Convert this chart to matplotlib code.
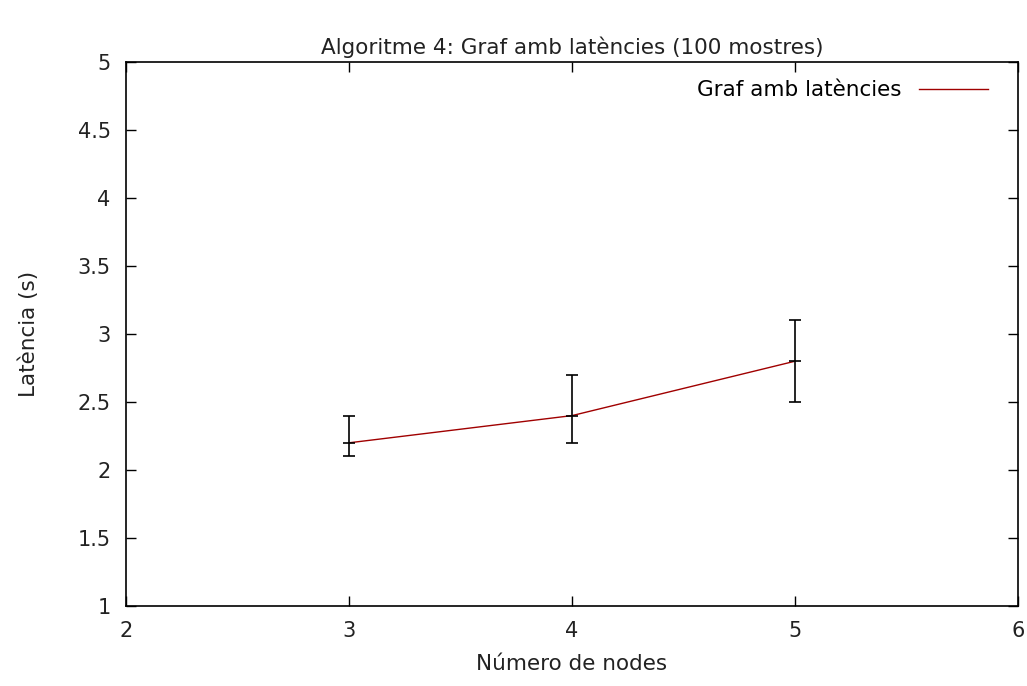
import matplotlib
matplotlib.use('Agg')
import matplotlib.pyplot as plt
import numpy as np

# dades
nodes = [3, 4, 5]
latencia = [2.2, 2.4, 2.8]
err_baix = [2.1, 2.2, 2.5]
err_alt = [2.4, 2.7, 3.1]

plt.rcParams['font.family'] = 'DejaVu Sans'

fig = plt.figure(figsize=(10.27, 6.86), dpi=100)
ax = fig.add_axes([0.1227, 0.1166, 0.8685, 0.793])

yerr = [np.array(latencia) - np.array(err_baix), np.array(err_alt) - np.array(latencia)]
ax.plot(nodes, latencia, color='#a00000', lw=1, label='Graf amb latències')
ax.errorbar(nodes, latencia, yerr=yerr, fmt='none', ecolor='black', elinewidth=1.2,
            capsize=4, capthick=1.2)
ax.plot(nodes, latencia, ls='none', marker='_', ms=8, mew=1.2, color='black')

ax.set_xlim(2, 6)
ax.set_ylim(1, 5)
ax.set_xticks([2, 3, 4, 5, 6])
ax.set_yticks([1, 1.5, 2, 2.5, 3, 3.5, 4, 4.5, 5])
ax.set_yticklabels(['1', '1.5', '2', '2.5', '3', '3.5', '4', '4.5', '5'])
ax.tick_params(direction='in', length=7, width=1, top=True, right=True,
               labelsize=15, pad=11, colors='black', labelcolor='#222222')
for s in ax.spines.values():
    s.set_linewidth(1.2)

ax.set_title('Algoritme 4: Graf amb latències (100 mostres)', fontsize=15.5, pad=6, color='#222222')
ax.set_xlabel('Número de nodes', fontsize=15.5, labelpad=9, color='#222222')
ax.set_ylabel('Latència (s)', fontsize=15.5, labelpad=28, color='#222222')

leg = ax.legend(loc='upper right', frameon=False, markerfirst=False, fontsize=15.5,
                handlelength=3.2, handletextpad=0.8, borderaxespad=1.0,
                bbox_to_anchor=(1.0, 1.022))

fig.savefig('out.png', dpi=100)
